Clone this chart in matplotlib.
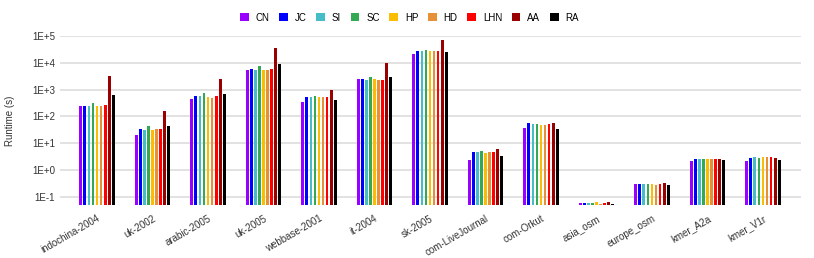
import matplotlib
matplotlib.use("Agg")
import matplotlib.pyplot as plt
import numpy as np

plt.rcParams['font.family'] = ['Liberation Sans', 'DejaVu Sans']

# graphs on the x axis
graphs = ["indochina-2004", "uk-2002", "arabic-2005", "uk-2005", "webbase-2001",
          "it-2004", "sk-2005", "com-LiveJournal", "com-Orkut", "asia_osm",
          "europe_osm", "kmer_A2a", "kmer_V1r"]

methods = ["CN", "JC", "SI", "SC", "HP", "HD", "LHN", "AA", "RA"]
colors = ["#9900ff", "#0000ff", "#46bdc6", "#34a853", "#fbbc04",
          "#e69138", "#ff0000", "#990000", "#000000"]

# runtime in seconds, one list per method
CN  = [250, 21, 445, 5600, 350, 2450, 21500, 2.45, 36, 0.059, 0.316, 2.2, 2.2]
JC  = [250, 33, 600, 6100, 550, 2600, 28500, 4.7, 59, 0.059, 0.316, 2.7, 2.85]
SI  = [250, 30, 600, 5600, 520, 2300, 28500, 4.7, 52, 0.059, 0.316, 2.7, 3.0]
SC  = [330, 44, 720, 7300, 590, 2900, 31000, 5.0, 52, 0.059, 0.316, 2.7, 2.85]
HP  = [250, 30, 520, 5600, 520, 2600, 28500, 4.5, 49, 0.062, 0.316, 2.7, 3.2]
HD  = [250, 33, 500, 5600, 520, 2300, 28500, 4.7, 49, 0.054, 0.28, 2.7, 3.0]
LHN = [265, 33, 560, 6000, 520, 2300, 28500, 4.7, 52, 0.057, 0.30, 2.7, 3.2]
AA  = [3200, 155, 2500, 35800, 1000, 10200, 73000, 6.1, 59, 0.063, 0.33, 2.7, 2.85]
RA  = [640, 44, 660, 8900, 415, 3000, 26000, 3.4, 35, 0.054, 0.28, 2.3, 2.3]

runtimes = [CN, JC, SI, SC, HP, HD, LHN, AA, RA]

fig = plt.figure(figsize=(8.14, 2.58), dpi=100)
ax = fig.add_axes([60/814, 53/258, 741/814, 169/258])

x = np.arange(len(graphs))
pitch = 0.073
width = 0.05
bottom = 0.05
for i, (name, vals) in enumerate(zip(methods, runtimes)):
    off = (i - 4) * pitch
    vals = np.array(vals)
    ax.bar(x + off, vals - bottom, width, bottom=bottom, color=colors[i], label=name, zorder=3)

ax.set_yscale("log")
ax.set_ylim(bottom, 1e5)
ax.set_yticks([1e-1, 1e0, 1e1, 1e2, 1e3, 1e4, 1e5])
ax.set_yticklabels(["1E-1", "1E+0", "1E+1", "1E+2", "1E+3", "1E+4", "1E+5"])
ax.minorticks_off()
ax.set_xlim(-0.667, 12.685)
ax.set_xticks(x)
ax.set_xticklabels(graphs, rotation=30, ha="right", rotation_mode="anchor")

ax.grid(axis="y", color="#dddddd", linewidth=1.2, zorder=0)
ax.tick_params(axis="both", length=0, labelsize=7, labelcolor="#333333")
ax.tick_params(axis="x", pad=6)
for s in ax.spines.values():
    s.set_visible(False)

ax.set_ylabel("Runtime (s)", fontsize=7, color="#333333", labelpad=12)

fig.legend(loc="upper center", bbox_to_anchor=(0.503, 0.985), ncol=9, frameon=False,
           fontsize=7, handlelength=0.9, handleheight=0.9, handletextpad=0.7,
           columnspacing=1.0)

fig.savefig("out.png", dpi=100)
